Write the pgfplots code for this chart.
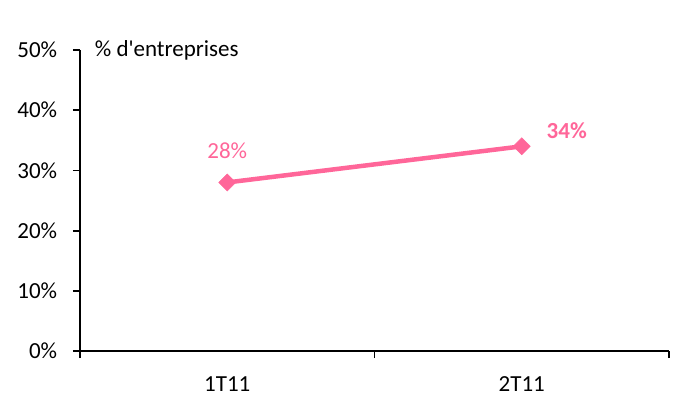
\documentclass[border=0pt]{standalone}
\usepackage{fontspec}
\setmainfont{Carlito}
\usepackage{pgfplots}
\pgfplotsset{compat=1.18}
\definecolor{pinkline}{HTML}{FF6699}

\begin{document}
\fontsize{23}{27}\selectfont
\begin{tikzpicture}
\useasboundingbox (-80pt,-49pt) rectangle (598pt,351pt);
\begin{axis}[
    scale only axis,
    width=589pt, height=301pt,
    xmin=-0.5, xmax=1.5,
    ymin=0, ymax=50,
    axis x line=bottom, axis y line=left,
    axis line style={-, line width=1.8pt},
    xtick={-0.5,0.5,1.5}, xticklabels={},
    extra x ticks={0,1}, extra x tick labels={1T11,2T11},
    extra x tick style={major tick length=0pt, xticklabel style={yshift=-18pt}},
    ytick={0,10,...,50},
    yticklabel={\pgfmathprintnumber{\tick}\%},
    tick align=outside,
    major tick length=7pt,
    every tick/.style={black, line width=1.8pt},
    tick label style={font=\fontsize{23}{27}\selectfont},
    /pgf/number format/assume math mode=true,
    yticklabel style={xshift=-8pt},
    clip=false,
]
\addplot[color=pinkline, line width=4.5pt, mark=square*, mark size=6pt,
         mark options={solid, rotate=45, fill=pinkline, line width=0.5pt}]
coordinates {(0,28) (1,34)};

\node[text=pinkline, font=\fontsize{23}{27}\selectfont] at (axis cs:0,28) [yshift=32pt] {28\%};
\node[text=pinkline, font=\fontsize{23}{27}\selectfont\bfseries] at (axis cs:1,34) [xshift=45pt, yshift=16pt] {34\%};
\node[anchor=west, font=\fontsize{23}{27}\selectfont] at (axis cs:-0.5,50) [xshift=7pt] {\% d\textquotesingle entreprises};
\end{axis}
\end{tikzpicture}
\end{document}
